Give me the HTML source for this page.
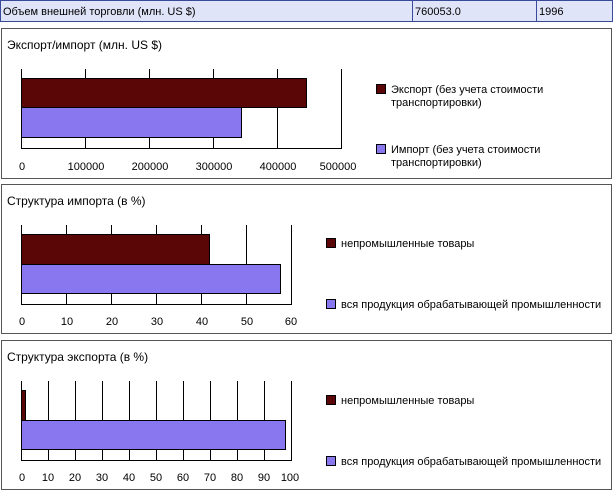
<!DOCTYPE html>
<html><head><meta charset="utf-8"><style>
body{margin:0;background:#fff;width:613px;height:491px;overflow:hidden}
svg{display:block;font-family:"Liberation Sans","DejaVu Sans",sans-serif;font-size:11px}
</style></head><body>
<svg width="613" height="491" xmlns="http://www.w3.org/2000/svg">
<rect x="0.5" y="0.5" width="612" height="21" fill="#e0e4f8" stroke="#3a4a9a"/>
<line x1="412.5" y1="0" x2="412.5" y2="22" stroke="#3a4a9a"/>
<line x1="536.5" y1="0" x2="536.5" y2="22" stroke="#3a4a9a"/>
<text x="3" y="15">Объем внешней торговли (млн. US $)</text>
<text x="415" y="15">760053.0</text>
<text x="539" y="15">1996</text>

<!-- Panel 1 -->
<rect x="1.5" y="28.5" width="610" height="150" fill="#fff" stroke="#555"/>
<text x="7" y="49" font-size="12">Экспорт/импорт (млн. US $)</text>
<g stroke="#000">
<line x1="21.5" y1="69" x2="21.5" y2="149"/>
<line x1="85.5" y1="69" x2="85.5" y2="149"/><line x1="149.5" y1="69" x2="149.5" y2="149"/>
<line x1="213.5" y1="69" x2="213.5" y2="149"/><line x1="277.5" y1="69" x2="277.5" y2="149"/>
<line x1="341.5" y1="69" x2="341.5" y2="149"/>
<line x1="21" y1="148.5" x2="342" y2="148.5"/>
</g>
<rect x="21.5" y="78.5" width="285" height="29" fill="#5a0606" stroke="#000"/>
<rect x="21.5" y="107.5" width="220" height="30" fill="#8877ee" stroke="#000"/>
<g text-anchor="middle"><text x="22" y="170">0</text><text x="86" y="170">100000</text><text x="150" y="170">200000</text><text x="214" y="170">300000</text><text x="278" y="170">400000</text><text x="338" y="170">500000</text></g>
<rect x="376.5" y="84.5" width="9" height="9" fill="#5a0606" stroke="#000"/>
<text x="391" y="93">Экспорт (без учета стоимости</text><text x="391" y="106">транспортировки)</text>
<rect x="376.5" y="144.5" width="9" height="9" fill="#8877ee" stroke="#000"/>
<text x="391" y="153">Импорт (без учета стоимости</text><text x="391" y="166">транспортировки)</text>

<!-- Panel 2 -->
<rect x="1.5" y="184.5" width="610" height="149" fill="#fff" stroke="#555"/>
<text x="7" y="205" font-size="12">Структура импорта (в %)</text>
<g stroke="#000">
<line x1="21.5" y1="225" x2="21.5" y2="305"/><line x1="66.5" y1="225" x2="66.5" y2="305"/>
<line x1="111.5" y1="225" x2="111.5" y2="305"/><line x1="156.5" y1="225" x2="156.5" y2="305"/>
<line x1="201.5" y1="225" x2="201.5" y2="305"/><line x1="246.5" y1="225" x2="246.5" y2="305"/>
<line x1="291.5" y1="225" x2="291.5" y2="305"/>
<line x1="21" y1="304.5" x2="292" y2="304.5"/>
</g>
<rect x="21.5" y="234.5" width="188" height="30" fill="#5a0606" stroke="#000"/>
<rect x="21.5" y="264.5" width="259" height="29" fill="#8877ee" stroke="#000"/>
<g text-anchor="middle"><text x="22" y="325">0</text><text x="67" y="325">10</text><text x="112" y="325">20</text><text x="157" y="325">30</text><text x="202" y="325">40</text><text x="247" y="325">50</text><text x="291" y="325">60</text></g>
<rect x="326.5" y="238.5" width="9" height="9" fill="#5a0606" stroke="#000"/>
<text x="341" y="247">непромышленные товары</text>
<rect x="326.5" y="299.5" width="9" height="9" fill="#8877ee" stroke="#000"/>
<text x="341" y="308">вся продукция обрабатывающей промышленности</text>

<!-- Panel 3 -->
<rect x="1.5" y="340.5" width="610" height="149" fill="#fff" stroke="#555"/>
<text x="7" y="361" font-size="12">Структура экспорта (в %)</text>
<g stroke="#000">
<line x1="21.5" y1="381" x2="21.5" y2="461"/><line x1="48.5" y1="381" x2="48.5" y2="461"/>
<line x1="75.5" y1="381" x2="75.5" y2="461"/><line x1="102.5" y1="381" x2="102.5" y2="461"/>
<line x1="129.5" y1="381" x2="129.5" y2="461"/><line x1="156.5" y1="381" x2="156.5" y2="461"/>
<line x1="183.5" y1="381" x2="183.5" y2="461"/><line x1="210.5" y1="381" x2="210.5" y2="461"/>
<line x1="237.5" y1="381" x2="237.5" y2="461"/><line x1="264.5" y1="381" x2="264.5" y2="461"/>
<line x1="291.5" y1="381" x2="291.5" y2="461"/>
<line x1="21" y1="460.5" x2="292" y2="460.5"/>
</g>
<rect x="21.5" y="390.5" width="4" height="30" fill="#5a0606" stroke="#000"/>
<rect x="21.5" y="420.5" width="264" height="29" fill="#8877ee" stroke="#000"/>
<g text-anchor="middle"><text x="22" y="481">0</text><text x="48" y="481">10</text><text x="75" y="481">20</text><text x="102" y="481">30</text><text x="129" y="481">40</text><text x="156" y="481">50</text><text x="183" y="481">60</text><text x="210" y="481">70</text><text x="237" y="481">80</text><text x="264" y="481">90</text><text x="290" y="481">100</text></g>
<rect x="326.5" y="395.5" width="9" height="9" fill="#5a0606" stroke="#000"/>
<text x="341" y="404">непромышленные товары</text>
<rect x="326.5" y="456.5" width="9" height="9" fill="#8877ee" stroke="#000"/>
<text x="341" y="465">вся продукция обрабатывающей промышленности</text>
</svg>
</body></html>
